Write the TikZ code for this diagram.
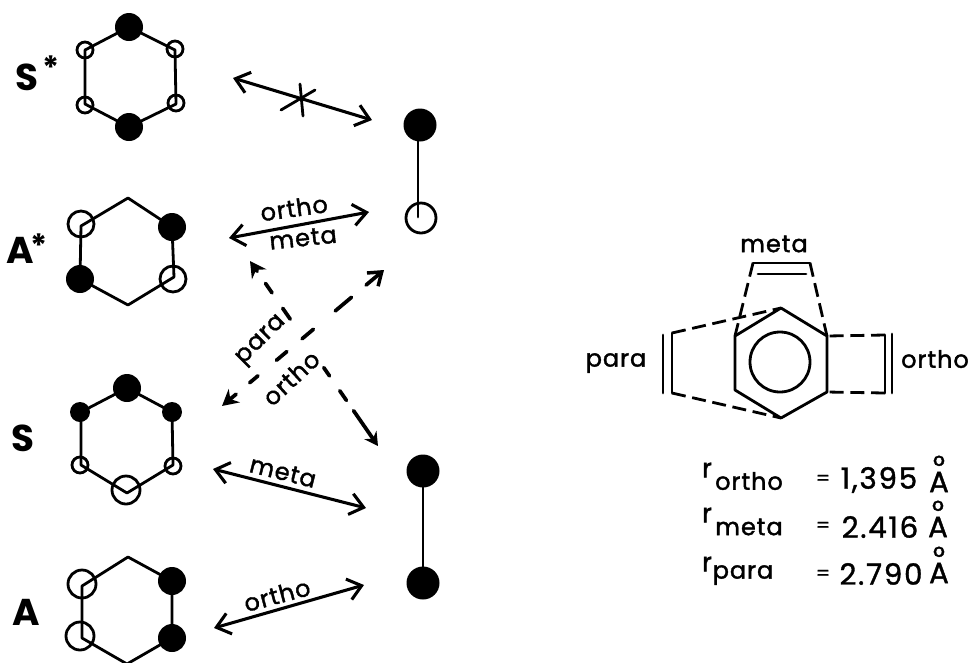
\documentclass[tikz,border=0pt]{standalone}
\usepackage{fontspec}
\setmainfont{Poppins}
\newfontfamily\letfont[FakeBold=1.6,LetterSpace=4]{Poppins}
\newfontfamily\numfont[FakeBold=1.2,LetterSpace=6]{Poppins}
\usetikzlibrary{arrows.meta}
\tikzset{
  fa/.style={circle,fill=black,inner sep=0pt,outer sep=0pt,minimum size=#1*1.5pt},
  oa/.style={circle,draw=black,line width=2.1pt,inner sep=0pt,outer sep=0pt,minimum size=#1*1.5pt},
  bond/.style={line width=2.1pt,line cap=round,line join=round},
  biarrow/.style={line width=2.3pt,line cap=round,{Straight Barb[length=10pt,width=16pt,line width=2.3pt]}-{Straight Barb[length=10pt,width=16pt,line width=2.3pt]}},
  dasharrow/.style={line width=2.8pt,line cap=round},
  dashbond/.style={line width=2.1pt,dash pattern=on 10.5pt off 5pt},
  lab/.style={inner sep=0pt,font=\fontsize{18}{18}\letfont},
  tag/.style={inner sep=0pt,font=\fontsize{28}{28}\selectfont\bfseries},
  stara/.style={inner sep=0pt,font=\fontsize{24}{24}\selectfont\bfseries},
  val/.style={inner sep=0pt,font=\fontsize{22}{22}\numfont},
  eqs/.style={inner sep=0pt,font=\fontsize{15}{15}\numfont},
  rr/.style={inner sep=0pt,font=\fontsize{20}{20}\letfont},
}
\newcommand{\angst}{\ooalign{A\cr\hfil\raisebox{12pt}{\fontsize{22}{22}\selectfont°}\hfil\cr}}
\begin{document}
\begin{tikzpicture}[x=0.75pt,y=-0.75pt]
\useasboundingbox (0,0) rectangle (972,662);
% S*
\coordinate (s1) at (129,27);\coordinate (s2) at (175,50);\coordinate (s3) at (176,104);
\coordinate (s4) at (129,127);\coordinate (s5) at (85,104);\coordinate (s6) at (85,50);
\draw[bond] (s1)--(s2)--(s3)--(s4)--(s5)--(s6)--cycle;
\node[fa=14] (sa1) at (s1) {};\node[fa=14] (sa4) at (s4) {};
\node[oa=8] (sa2) at (175,49) {};\node[oa=8] (sa3) at (176,103) {};
\node[oa=8] (sa5) at (85,105) {};\node[oa=8] (sa6) at (85,50) {};
\node[tag] (tS1) at (27,77) {S};\node[stara] (st1) at (51,68) {*};
% A*
\coordinate (a1) at (128,198);\coordinate (a2) at (172,227);\coordinate (a3) at (174,277);
\coordinate (a4) at (128,305);\coordinate (a5) at (80,279);\coordinate (a6) at (81,226);
\draw[bond] (a1)--(a2)--(a3)--(a4)--(a5)--(a6)--cycle;
\node[fa=14] (aa2) at (a2) {};\node[fa=14] (aa5) at (a5) {};
\node[oa=13] (aa3) at (173,279) {};\node[oa=13] (aa6) at (81,224) {};
\node[tag] (tA1) at (20,250) {A};\node[stara] (st2) at (39,246) {*};
% S
\coordinate (b1) at (127,388);\coordinate (b2) at (172,412);\coordinate (b3) at (173,465);
\coordinate (b4) at (127,493);\coordinate (b5) at (81,465);\coordinate (b6) at (81,412);
\draw[bond] (b1)--(b2)--(b3)--(b4)--(b5)--(b6)--cycle;
\node[fa=14] (ba1) at (b1) {};\node[fa=10] (ba2) at (b2) {};\node[fa=10] (ba6) at (80,412) {};
\node[oa=8] (ba3) at (173,466) {};\node[oa=8] (ba5) at (80,465) {};\node[oa=14] (ba4) at (126,490) {};
\node[tag] (tS2) at (23,438) {S};
% A
\coordinate (c1) at (128,557);\coordinate (c2) at (172,581);\coordinate (c3) at (172,638);
\coordinate (c4) at (127,664);\coordinate (c5) at (82,638);\coordinate (c6) at (82,586);
\draw[bond] (c1)--(c2)--(c3)--(c4)--(c5)--(c6)--cycle;
\node[fa=14] (ca2) at (c2) {};\node[fa=14] (ca3) at (c3) {};
\node[oa=14] (ca5) at (80,636) {};\node[oa=14] (ca6) at (82,584) {};
\node[tag] (tA2) at (26,612) {A};
% diatomics
\node[fa=16.5] (d1) at (420,125) {};\node[oa=15] (d2) at (421,218) {};
\coordinate (d2e) at (418,217);
\draw[bond] (418,130) -- (d2e);
\node[fa=16.5] (e1) at (423,471) {};\node[fa=16.5] (e2) at (423,583) {};
\draw[bond] (e1)--(e2);
% arrows
\coordinate (p1) at (233,78);\coordinate (p2) at (372,120);
\draw[biarrow] (p1)--(p2);
\coordinate (x1) at (300,84);\coordinate (x2) at (303,116);\coordinate (x3) at (281,110);\coordinate (x4) at (315,90);
\draw[bond] (x1)--(x2);\draw[bond] (x3)--(x4);
\coordinate (q1) at (229,238);\coordinate (q2) at (369,212);
\draw[biarrow] (q1)--(q2);
\node[lab,rotate=8] (l1) at (294,208) {ortho};
\node[lab,rotate=6] (l2) at (303,238) {meta};
\coordinate (r1) at (213,469);\coordinate (r2) at (366,508);
\draw[biarrow] (r1)--(r2);
\node[lab,rotate=-14] (l3) at (283,472) {meta};
\coordinate (t1) at (214,628);\coordinate (t2) at (364,585);
\draw[biarrow] (t1)--(t2);
\node[lab,rotate=15] (l4) at (277,595) {ortho};
% dashed crossing arrows
\coordinate (u1) at (250,261);\coordinate (u2) at (378,446);
\draw[dasharrow,dash pattern=on 2pt off 11pt on 8.6pt off 14.1pt on 9.9pt off 44.2pt on 7.6pt off 13.5pt on 8.8pt off 9.4pt on 40pt,{Stealth[length=12pt,width=13pt]}-{Stealth[length=10pt,width=11pt]}] (u1)--(u2);
\coordinate (v1) at (384,270);\coordinate (v2) at (222,406);
\draw[dasharrow,dash pattern=on 14pt off 14.3pt on 15.9pt off 21.4pt on 11.1pt off 14.9pt on 10.2pt off 18.1pt on 8.1pt off 13.3pt on 30pt,{Straight Barb[length=9pt,width=13pt,line width=2.6pt]}-{Stealth[length=12pt,width=13pt]}] (v1)--(v2);
\node[lab,rotate=45] (l5) at (262,341) {para};
\node[lab,rotate=43] (l6) at (291,378) {ortho};
% benzene
\coordinate (h1) at (781,308);\coordinate (h2) at (827,336);\coordinate (h3) at (827,392);
\coordinate (h4) at (781,418);\coordinate (h5) at (735,390);\coordinate (h6) at (735,336);
\draw[bond] (h1)--(h2)--(h3)--(h4)--(h5)--(h6)--cycle;
\node[oa=30] (ring) at (780,362) {};
% meta
\coordinate (m1) at (753,263);\coordinate (m2) at (810,263);\coordinate (m3) at (758,274);\coordinate (m4) at (806,274);
\draw[dashbond] (m1)--(h6);\draw[dashbond] (m2)--(h2);
\draw[bond] (m1)--(m2);\draw[bond] (m3)--(m4);
% para
\coordinate (o1) at (672,333);\coordinate (o2) at (672,393);\coordinate (o3) at (663,335);\coordinate (o4) at (663,393);
\draw[dashbond] (o1)--(h1);\draw[dashbond] (o2)--(h4);
\draw[bond] (o1)--(o2);\draw[bond] (o3)--(o4);
% ortho
\coordinate (g1) at (885,335);\coordinate (g2) at (885,393);\coordinate (g3) at (892,334);\coordinate (g4) at (892,393);
\draw[dashbond] (g1)--(h2);\draw[dashbond] (g2)--(h3);
\draw[bond] (g1)--(g2);\draw[bond] (g3)--(g4);
\node[lab] (lm) at (774,244) {meta};
\node[lab] (lp) at (616,363) {para};
\node[lab] (lo) at (935,359) {ortho};
% values
\node[rr] (r1t) at (707,470) {r};\node[lab] (s1t) at (749,481) {ortho};
\node[eqs] (e1t) at (823,480) {=};\node[val] (n1t) at (879,480) {1,395};\node[val] (u1t) at (939,482) {\angst};
\node[rr] (r2t) at (707,515) {r};\node[lab] (s2t) at (749,527) {meta};
\node[eqs] (e2t) at (823,527) {=};\node[val] (n2t) at (880,527) {2.416};\node[val] (u2t) at (938,527) {\angst};
\node[rr] (r3t) at (707,564) {r};\node[lab] (s3t) at (743,575) {para};
\node[eqs] (e3t) at (823,575) {=};\node[val] (n3t) at (881,574) {2.790};\node[val] (u3t) at (939,573) {\angst};
\end{tikzpicture}
\end{document}
